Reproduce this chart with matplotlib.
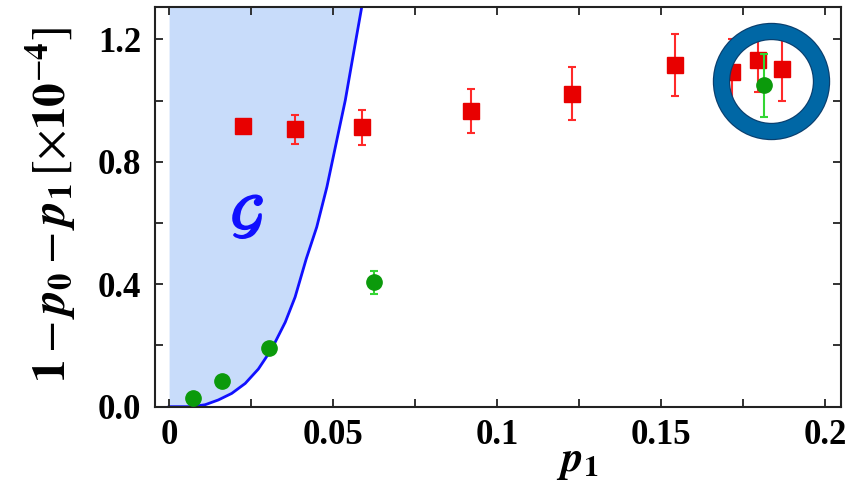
import numpy as np
import matplotlib
matplotlib.use("Agg")
import matplotlib.pyplot as plt
import matplotlib.patheffects as pe
from matplotlib.ticker import MultipleLocator, FixedLocator, FixedFormatter

plt.rcParams['font.family'] = ['Liberation Serif', 'DejaVu Serif']
plt.rcParams['mathtext.fontset'] = 'stix'

# red squares
red_p1 = [0.0224, 0.0384, 0.0589, 0.0921, 0.1228, 0.1541, 0.1716, 0.1794, 0.1868]
red_y = [0.916, 0.906, 0.913, 0.965, 1.023, 1.116, 1.092, 1.132, 1.102]
red_err = [0.0, 0.046, 0.057, 0.072, 0.086, 0.101, 0.108, 0.105, 0.103]

# green circles
green_p1 = [0.0074, 0.0161, 0.0303, 0.0626, 0.1812]
green_y = [0.028, 0.085, 0.192, 0.407, 1.050]
green_err = [0.008, 0.010, 0.012, 0.038, 0.103]

# boundary of the region G
bound_p1 = [0.0, 0.0070, 0.0110, 0.0150, 0.0191, 0.0232, 0.0272, 0.0313, 0.0354,
            0.0384, 0.0418, 0.0450, 0.0481, 0.0511, 0.0537, 0.0562, 0.0587]
bound_y = [0.0, 0.0, 0.0065, 0.022, 0.0435, 0.076, 0.123, 0.189, 0.276,
           0.358, 0.483, 0.587, 0.718, 0.870, 1.001, 1.154, 1.305]

xtick_vals = [0, 0.05, 0.1, 0.15, 0.2]
xtick_labels = ['0', '0.05', '0.1', '0.15', '0.2']
ytick_vals = [0.0, 0.4, 0.8, 1.2]
ytick_labels = ['0.0', '0.4', '0.8', '1.2']

highlight = (0.1835, 1.0645)

fig = plt.figure(figsize=(8.46, 4.84), dpi=100)
ax = fig.add_axes([0.1832, 0.1597, 0.8109, 0.8252])
ax.set_xlim(-0.0043, 0.2048)
ax.set_ylim(0, 1.305)

ax.fill_betweenx(bound_y, 0, bound_p1, color='#c8dcfa', lw=0, zorder=0)
ax.plot(bound_p1, bound_y, color='#1010ff', lw=2, zorder=1)

ax.text(0.0239, 0.615, r'$\mathcal{G}$', color='#1010ff', fontsize=38,
        ha='center', va='center', zorder=2,
        path_effects=[pe.withStroke(linewidth=1.6, foreground='#1010ff')])

ax.errorbar(red_p1, red_y, yerr=red_err, fmt='s', color='#ff2a2a', ecolor='#ff2a2a',
            mfc='#e80000', mec='#e80000', ms=12, elinewidth=1.5, capsize=3,
            capthick=1.5, zorder=3)
ax.errorbar(green_p1, green_y, yerr=green_err, fmt='o', ecolor='#33d633',
            mfc='#0b9a0b', mec='#0b9a0b', ms=11, elinewidth=1.5, capsize=3,
            capthick=1.5, zorder=4)

# highlight ring
ax.plot(*highlight, 'o', ms=72, mfc='none', mec='#0b3f6e', mew=12.5, zorder=5)
ax.plot(*highlight, 'o', ms=72, mfc='none', mec='#0067a5', mew=10.8, zorder=6)

ax.xaxis.set_major_locator(FixedLocator(xtick_vals))
ax.xaxis.set_major_formatter(FixedFormatter(xtick_labels))
ax.xaxis.set_minor_locator(MultipleLocator(0.025))
ax.yaxis.set_major_locator(FixedLocator(ytick_vals))
ax.yaxis.set_major_formatter(FixedFormatter(ytick_labels))
ax.yaxis.set_minor_locator(MultipleLocator(0.2))

ax.tick_params(which='both', direction='in', top=True, right=True,
               length=5.5, width=1.3, color='#222222')
ax.tick_params(axis='x', which='major', pad=9)
ax.tick_params(axis='y', which='major', pad=10)
for lab in ax.get_xticklabels() + ax.get_yticklabels():
    lab.set_fontsize(25)
    lab.set_fontweight('bold')

for sp in ax.spines.values():
    sp.set_linewidth(1.5)
    sp.set_color('#222222')

ax.set_xlabel(r'$\mathbfit{p}_\mathbf{1}$', fontsize=31)
ax.xaxis.set_label_coords(0.615, -0.14)
ax.xaxis.label.set_va('center')
ax.set_ylabel(r'$\mathbf{1}-\mathbfit{p}_\mathbf{0}-\mathbfit{p}_\mathbf{1}\,[\times\mathbf{10}^{-\mathbf{4}}]$',
              fontsize=34)
ax.yaxis.set_label_coords(-0.150, 0.505)
ax.yaxis.label.set_va('center')

fig.savefig('out.png', dpi=100)
